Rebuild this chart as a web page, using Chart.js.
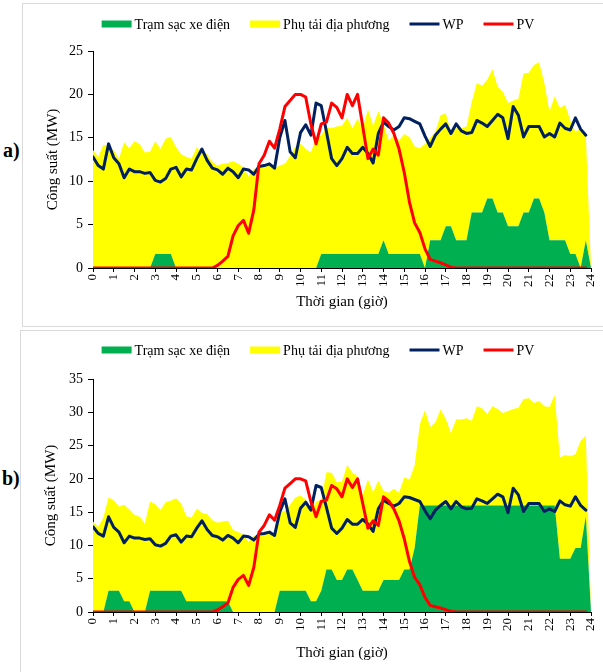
<!DOCTYPE html>
<html>
<head>
<meta charset="utf-8">
<script src="https://cdn.jsdelivr.net/npm/chart.js@4.4.1/dist/chart.umd.min.js"></script>
<style>
  body { margin: 0; background: #fff; width: 603px; height: 672px; position: relative; overflow: hidden; }
  .frame { position: absolute; border: 1px solid #d9d9d9; box-sizing: border-box; }
  canvas { position: absolute; }
  .tag { position: absolute; font: bold 20px 'Liberation Serif', serif; color: #000; }
</style>
</head>
<body>
<div class="frame" style="left:22px;top:3px;width:590px;height:324px"></div>
<div class="frame" style="left:20px;top:330px;width:592px;height:350px"></div>
<div class="tag" style="left:3px;top:139px">a)</div>
<div class="tag" style="left:2px;top:467px">b)</div>
<canvas id="chartA" width="581" height="324" style="left:22px;top:3px"></canvas>
<canvas id="chartB" width="583" height="342" style="left:20px;top:330px"></canvas>
<script>
// 15-minute samples, 0:00 .. 23:45 (areas carry one extra closing point at 24:00)
const STEP_HOURS = 0.25;

const wpPower = [
  12.8, 11.8, 11.4, 14.3, 12.7, 12.0, 10.4, 11.4, 11.1, 11.1, 10.9, 11.0,
  10.1, 9.9, 10.3, 11.4, 11.6, 10.5, 11.4, 11.3, 12.6, 13.7, 12.4, 11.5,
  11.3, 10.8, 11.5, 11.1, 10.4, 11.4, 11.3, 10.8, 11.7, 11.8, 12.0, 11.5,
  15.0, 17.0, 13.4, 12.7, 15.6, 16.5, 15.3, 19.0, 18.7, 15.7, 12.6, 11.8,
  12.6, 13.9, 13.2, 13.2, 13.9, 13.2, 12.1, 15.5, 16.8, 16.3, 15.9, 16.3,
  17.3, 17.2, 16.9, 16.6, 15.2, 14.0, 15.3, 16.0, 16.6, 15.5, 16.6, 15.8,
  15.5, 15.6, 17.0, 16.7, 16.3, 17.0, 17.7, 17.3, 14.9, 18.6, 17.6, 15.1,
  16.3, 16.3, 16.3, 15.1, 15.5, 15.1, 16.7, 16.1, 15.9, 17.3, 16.0, 15.3
];

const pvPower = [
  0, 0, 0, 0, 0, 0, 0, 0, 0, 0, 0, 0,
  0, 0, 0, 0, 0, 0, 0, 0, 0, 0, 0, 0,
  0.3, 0.8, 1.35, 3.7, 4.9, 5.5, 4.0, 6.7, 12.0, 13.0, 14.6, 13.8,
  16.0, 18.6, 19.3, 20.0, 20.0, 19.7, 16.6, 14.3, 16.6, 16.8, 19.0, 18.5,
  17.3, 20.0, 18.7, 20.0, 16.3, 12.6, 13.7, 13.0, 17.3, 16.7, 15.5, 13.7,
  11.0, 7.6, 5.2, 4.1, 2.2, 1.0, 0.8, 0.6, 0.35, 0.1, 0, 0,
  0, 0, 0, 0, 0, 0, 0, 0, 0, 0, 0, 0,
  0, 0, 0, 0, 0, 0, 0, 0, 0, 0, 0, 0
];

// local load, stacked on top of the charging station
const localLoad = [
  13.6, 12.8, 14.2, 14.0, 13.6, 12.6, 14.5, 13.8, 14.6, 14.3, 13.3, 13.4,
  13.0, 12.1, 13.3, 13.5, 13.9, 13.1, 12.8, 12.6, 13.9, 13.3, 13.1, 12.2,
  11.8, 12.0, 12.1, 12.3, 12.0, 11.6, 10.5, 11.4, 11.6, 11.7, 12.0, 11.5,
  11.8, 12.0, 12.9, 14.0, 14.3, 13.7, 13.3, 15.0, 13.7, 14.6, 14.5, 14.7,
  14.8, 15.7, 14.5, 15.6, 14.4, 16.7, 14.8, 16.5, 13.4, 13.1, 13.7, 13.1,
  13.8, 13.5, 12.4, 12.2, 14.3, 11.8, 12.5, 14.4, 13.0, 10.9, 12.9, 12.9,
  13.1, 12.7, 14.9, 14.6, 13.7, 14.9, 14.5, 13.9, 14.2, 14.5, 14.7, 16.0,
  16.1, 15.4, 15.7, 14.9, 14.8, 16.6, 15.2, 15.6, 15.4, 14.1, 16.1, 12.1,
  0
];

const evStationA = [
  0, 0, 0, 0, 0, 0, 0, 0, 0, 0, 0, 0,
  1.6, 1.6, 1.6, 1.6, 0, 0, 0, 0, 0, 0, 0, 0,
  0, 0, 0, 0, 0, 0, 0, 0, 0, 0, 0, 0,
  0, 0, 0, 0, 0, 0, 0, 0, 1.6, 1.6, 1.6, 1.6,
  1.6, 1.6, 1.6, 1.6, 1.6, 1.6, 1.6, 1.6, 3.2, 1.6, 1.6, 1.6,
  1.6, 1.6, 1.6, 1.6, 0, 3.2, 3.2, 3.2, 4.8, 4.8, 3.2, 3.2,
  3.2, 6.4, 6.4, 6.4, 8.0, 8.0, 6.4, 6.4, 4.8, 4.8, 4.8, 6.4,
  6.4, 8.0, 8.0, 6.4, 3.2, 3.2, 3.2, 3.2, 1.6, 1.6, 0, 3.2,
  0
];

const evStationB = [
  0, 0, 0, 3.2, 3.2, 3.2, 1.6, 1.6, 0, 0, 0, 3.2,
  3.2, 3.2, 3.2, 3.2, 3.2, 3.2, 1.6, 1.6, 1.6, 1.6, 1.6, 1.6,
  1.6, 1.6, 1.6, 0, 0, 0, 0, 0, 0, 0, 0, 0,
  3.2, 3.2, 3.2, 3.2, 3.2, 3.2, 1.6, 1.6, 3.2, 6.4, 6.4, 4.8,
  4.8, 6.4, 6.4, 4.8, 3.2, 3.2, 3.2, 3.2, 4.8, 4.8, 4.8, 4.8,
  6.4, 6.4, 9.6, 16.0, 16.0, 16.0, 16.0, 16.0, 16.0, 16.0, 16.0, 16.0,
  16.0, 16.0, 16.0, 16.0, 16.0, 16.0, 16.0, 16.0, 16.0, 16.0, 16.0, 16.0,
  16.0, 16.0, 16.0, 16.0, 16.0, 16.0, 8.0, 8.0, 8.0, 9.6, 9.6, 14.4,
  0
];

const seriesNames = ['Trạm sạc xe điện', 'Phụ tải địa phương', 'WP', 'PV'];
const seriesColors = ['#00B050', '#FFFF00', '#002060', '#FF0000'];

const FONT = "'Liberation Serif', 'Times New Roman', serif";

const toPoints = values => values.map((v, i) => ({ x: i * STEP_HOURS, y: v }));

// One-row legend: short swatch, tight gap before the text
const rowLegend = {
    id: 'rowLegend',
    afterDraw(chart, args, opts) {
        const { ctx } = chart;
        const sw = 30, gap = 3, spacing = 20;
        ctx.save();
        ctx.font = `14px ${FONT}`;
        ctx.textBaseline = 'middle';
        const items = chart.data.datasets.map(ds => ({
            text: ds.label,
            color: ds.borderColor,
            line: ds.pointStyle === 'line'
        }));
        const widths = items.map(it => sw + gap + ctx.measureText(it.text).width);
        const total = widths.reduce((a, b) => a + b, 0) + spacing * (items.length - 1);
        let x = opts.centerX - total / 2;
        items.forEach((it, i) => {
            if (it.line) {
                ctx.strokeStyle = it.color;
                ctx.lineWidth = 3;
                ctx.beginPath();
                ctx.moveTo(x, opts.y);
                ctx.lineTo(x + sw, opts.y);
                ctx.stroke();
            } else {
                ctx.fillStyle = it.color;
                ctx.fillRect(x, opts.y - 3.5, sw, 7);
            }
            ctx.fillStyle = '#000';
            ctx.fillText(it.text, x + sw + gap, opts.y + 1);
            x += widths[i] + spacing;
        });
        ctx.restore();
    }
};

const createChart = (canvasId, evData, yMax, frame) => {
    const ctx = document.getElementById(canvasId).getContext('2d');

    const areaStyle = (i) => ({
        label: seriesNames[i],
        backgroundColor: seriesColors[i],
        borderColor: seriesColors[i],
        borderWidth: 0,
        pointRadius: 0,
        pointStyle: 'rect',
        stack: 'load',
        order: 3
    });
    const lineStyle = (i, order) => ({
        label: seriesNames[i],
        borderColor: seriesColors[i],
        backgroundColor: seriesColors[i],
        borderWidth: 3,
        pointRadius: 0,
        pointStyle: 'line',
        borderJoinStyle: 'round',
        borderCapStyle: 'round',
        fill: false,
        stack: 'line' + i,
        order: order
    });

    return new Chart(ctx, {
        type: 'line',
        data: {
            datasets: [
                { ...areaStyle(0), data: toPoints(evData), fill: 'origin' },
                { ...areaStyle(1), data: toPoints(localLoad), fill: '-1', order: 4 },
                { ...lineStyle(2, 1), data: toPoints(wpPower) },
                { ...lineStyle(3, 0), data: toPoints(pvPower) }
            ]
        },
        plugins: [rowLegend],
        options: {
            responsive: false,
            animation: false,
            devicePixelRatio: 1,
            layout: { padding: { top: frame.top, right: 12, bottom: 0, left: 0 } },
            plugins: {
                tooltip: { enabled: false },
                legend: { display: false },
                rowLegend: { centerX: frame.legendX, y: frame.legendY }
            },
            scales: {
                x: {
                    type: 'linear',
                    min: 0,
                    max: 24,
                    afterFit: s => {
                        s.height = frame.xHeight;
                        s.paddingLeft = 0;
                        s.paddingRight = 0;
                    },
                    grid: { display: true, drawOnChartArea: false, drawTicks: true, tickLength: 4, color: '#000' },
                    border: { color: '#000', width: 1 },
                    ticks: {
                        stepSize: 1,
                        autoSkip: false,
                        minRotation: 90,
                        maxRotation: 90,
                        padding: 2,
                        color: '#000',
                        font: { family: FONT, size: 13 }
                    },
                    title: {
                        display: true,
                        text: 'Thời gian (giờ)',
                        color: '#000',
                        font: { family: FONT, size: 15 },
                        padding: { top: 0, bottom: frame.titleGap }
                    }
                },
                y: {
                    stacked: true,
                    min: 0,
                    max: yMax,
                    afterFit: s => {
                        s.width = frame.yWidth;
                        s.paddingTop = 0;
                        s.paddingBottom = 0;
                    },
                    grid: { display: true, drawOnChartArea: false, drawTicks: true, tickLength: 5, color: '#000' },
                    border: { color: '#000', width: 1 },
                    ticks: {
                        stepSize: 5,
                        padding: 5,
                        color: '#000',
                        font: { family: FONT, size: 14 }
                    },
                    title: {
                        display: true,
                        text: 'Công suất (MW)',
                        color: '#000',
                        font: { family: FONT, size: 15 },
                        padding: { top: 22, bottom: 0 }
                    }
                }
            }
        }
    });
};

createChart('chartA', evStationA, 25,
    { top: 48, yWidth: 71, xHeight: 59, titleGap: 16, legendX: 296, legendY: 21 });
createChart('chartB', evStationB, 35,
    { top: 49, yWidth: 73, xHeight: 60, titleGap: 10, legendX: 298, legendY: 20 });
</script>
</body>
</html>
